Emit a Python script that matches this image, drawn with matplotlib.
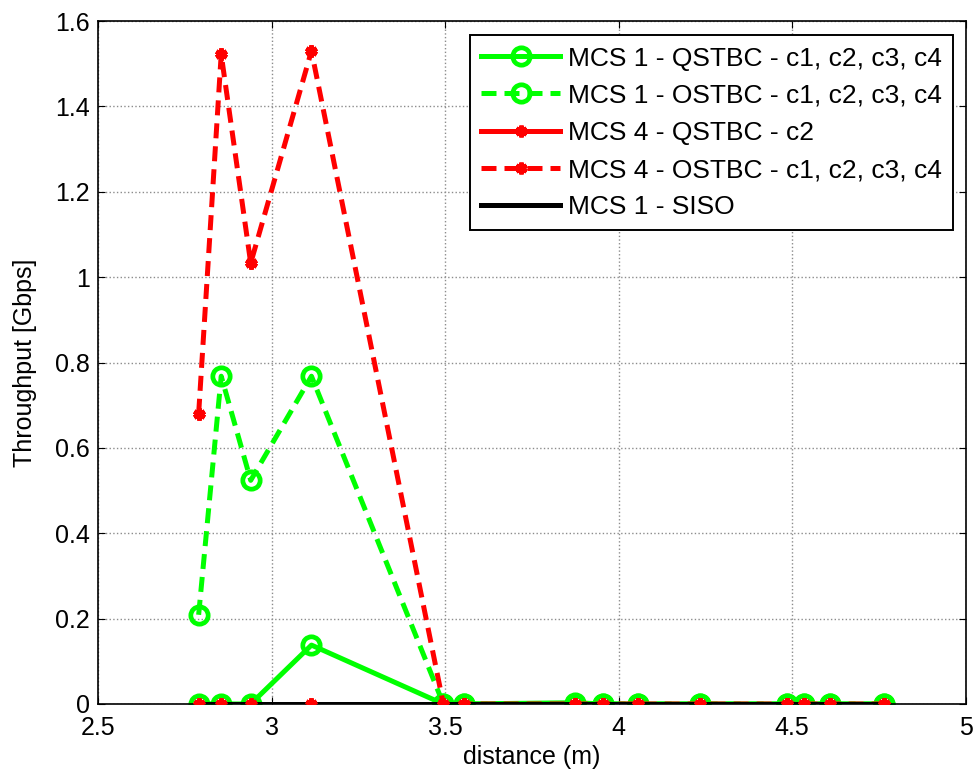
"""
Throughput versus distance for the MCS / STBC configurations.
"""

import matplotlib.pyplot as plt

distance = [2.79, 2.855, 2.94, 3.115, 3.495, 3.555, 3.875, 3.955,
            4.055, 4.235, 4.485, 4.535, 4.61, 4.765]

mcs1_qstbc = [0, 0, 0, 0.138, 0, 0, 0.003, 0, 0, 0, 0, 0, 0, 0]
mcs1_ostbc = [0.209, 0.768, 0.524, 0.768, 0, 0, 0, 0, 0, 0, 0, 0, 0, 0]
mcs4_qstbc = [0, 0, 0, 0, 0, 0, 0, 0, 0, 0, 0, 0, 0, 0]
mcs4_ostbc = [0.68, 1.522, 1.033, 1.53, 0, 0, 0, 0, 0, 0, 0, 0, 0, 0]
mcs1_siso = [0, 0, 0, 0, 0, 0, 0, 0, 0, 0, 0, 0, 0, 0]

labels = [
    "MCS 1 - QSTBC - c1, c2, c3, c4",
    "MCS 1 - OSTBC - c1, c2, c3, c4",
    "MCS 4 - QSTBC - c2",
    "MCS 4 - OSTBC - c1, c2, c3, c4",
    "MCS 1 - SISO",
]

plt.rcParams["font.family"] = ["Liberation Sans", "DejaVu Sans"]

fig = plt.figure(figsize=(9.75, 7.76), dpi=100)
ax = fig.add_axes([0.1005, 0.0928, 0.890, 0.880])

green = "#00ff00"
red = "#ff0000"

circle = dict(marker="o", markersize=12.5, markerfacecolor="none",
              markeredgewidth=3.4, markeredgecolor=green)
star = dict(marker=(6, 2, 0), markersize=8.5, markerfacecolor=red,
            markeredgecolor=red, markeredgewidth=3.2)
dash = (0, (3, 1.6))

ax.plot(distance, mcs1_qstbc, color=green, lw=3.6, ls="-", label=labels[0], **circle)
ax.plot(distance, mcs1_ostbc, color=green, lw=3.6, ls=dash, label=labels[1], **circle)
ax.plot(distance, mcs4_qstbc, color=red, lw=3.6, ls="-", label=labels[2], **star)
ax.plot(distance, mcs4_ostbc, color=red, lw=3.6, ls=dash, label=labels[3], **star)
ax.plot(distance, mcs1_siso, color="black", lw=3.6, ls="-", label=labels[4])

# red markers stay visible on top of the black SISO line
ax.plot(distance, mcs4_qstbc, ls="none", zorder=3, **star)
ax.plot(distance, mcs4_ostbc, ls="none", zorder=3, **star)

ax.set_xlim(2.5, 5)
ax.set_ylim(0, 1.6)
ax.set_xticks([2.5, 3, 3.5, 4, 4.5, 5])
ax.set_xticklabels(["2.5", "3", "3.5", "4", "4.5", "5"])
ax.set_yticks([0, 0.2, 0.4, 0.6, 0.8, 1, 1.2, 1.4, 1.6])
ax.set_yticklabels(["0", "0.2", "0.4", "0.6", "0.8", "1", "1.2", "1.4", "1.6"])
ax.tick_params(direction="in", top=True, right=True, labelsize=18, length=5)
ax.tick_params(axis="x", pad=9)
ax.tick_params(axis="y", pad=6)
ax.grid(True, color="#8c8c8c", ls=":", lw=1)
for s in ax.spines.values():
    s.set_linewidth(1.2)

ax.set_xlabel("distance (m)", fontsize=18, labelpad=3)
ax.set_ylabel("Throughput [Gbps]", fontsize=18, labelpad=13)

leg = ax.legend(loc="upper right", fontsize=19, handlelength=3.0, handletextpad=0.3,
                borderpad=0.42, labelspacing=0.5, fancybox=False,
                bbox_to_anchor=(0.9855, 0.979), borderaxespad=0)
leg.get_frame().set_edgecolor("black")
leg.get_frame().set_linewidth(1.4)
leg.get_frame().set_alpha(1)

fig.savefig("out.png")
